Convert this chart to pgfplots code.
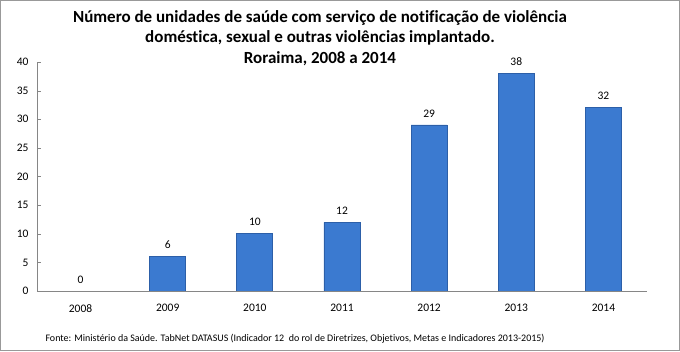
\documentclass[border=0pt]{standalone}
\usepackage{pgfplots}
\pgfplotsset{compat=1.18}
\usepackage{fontspec}
\setmainfont{Carlito}[Ligatures={NoCommon}]
\definecolor{barmid}{HTML}{3B7AD0}
\definecolor{baredge}{HTML}{2C5FA8}
\definecolor{axgray}{HTML}{868686}
\begin{document}
\begin{tikzpicture}[x=1pt,y=1pt]
\draw[line width=1pt, color=gray!80] (0.5,0.5) rectangle (679.5,350.5);
\node[align=center, font=\fontsize{17}{20.5}\selectfont\bfseries] at (320,313)
{Número de unidades de saúde com serviço de notificação de violência\\
doméstica, sexual e outras violências implantado.\\
Roraima, 2008 a 2014};
\node[font=\fontsize{10}{12}\selectfont, anchor=west] at (42,12)
{Fonte: Ministério da Saúde. TabNet DATASUS (Indicador 12\ \ do rol de Diretrizes, Objetivos, Metas e Indicadores 2013-2015)};
\begin{axis}[
  at={(37pt,60pt)}, anchor=south west,
  scale only axis, width=610pt, height=229pt,
  ymin=0, ymax=40, ytick={0,5,...,40},
  xmin=-0.5, xmax=6.5,
  xtick={0,...,6},
  xticklabels={2008,2009,2010,2011,2012,2013,2014},
  extra x ticks={-0.5,0.5,...,6.5},
  extra x tick labels={},
  extra x tick style={major tick length=4pt, tick style={axgray}, tick pos=left,
     xticklabel style={opacity=0}},
  x tick style={draw=none},
  ytick style={axgray},
  major tick length=4pt,
  tick pos=left,
  axis x line*=bottom, axis y line*=left,
  axis line style={axgray, -},
  tick label style={font=\fontsize{11.5}{13}\selectfont},
  /pgf/number format/assume math mode=true,
  xticklabel style={yshift=-6pt},
  yticklabel style={xshift=-5pt},
  ybar, bar width=36pt, bar shift=0pt,
  nodes near coords,
  every node near coord/.append style={font=\fontsize{11.5}{13}\selectfont, yshift=4pt, black},
]
\addplot[draw=none, fill=none] coordinates {(0,0)};
\addplot[draw=baredge, fill=barmid, line width=0.8pt]
 coordinates {(1,6) (2,10) (3,12) (4,29) (5,38) (6,32)};
\end{axis}
\end{tikzpicture}
\end{document}
